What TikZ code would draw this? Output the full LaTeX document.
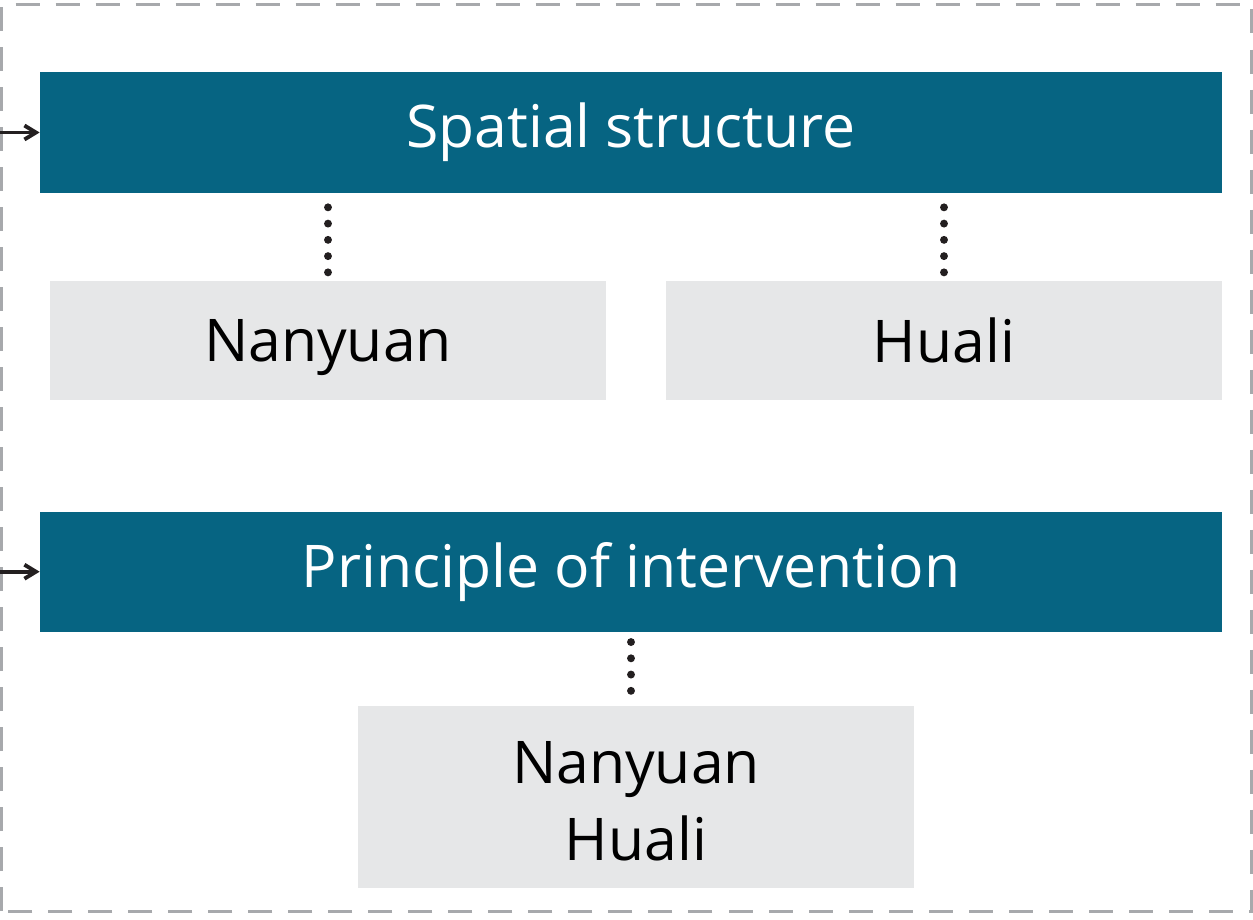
\documentclass[tikz,border=0pt]{standalone}
\usepackage{fontspec}
\setmainfont{Open Sans}
\usepackage{xcolor}
\usetikzlibrary{positioning, arrows.meta}

\definecolor{headteal}{RGB}{6,100,130}
\definecolor{subgray}{RGB}{230,231,232}
\definecolor{framegray}{RGB}{167,169,172}
\definecolor{inkdark}{RGB}{35,31,32}

\begin{document}
\begin{tikzpicture}[
  font=\fontsize{33.5}{44}\selectfont,
  >={Straight Barb[length=2.3mm, width=2.8mm]},
  every node/.style={align=center, inner sep=0pt},
  head/.style ={fill=headteal, text=white,
                minimum width=23.64cm, minimum height=2.42cm},
  site/.style ={fill=subgray, text=black,
                minimum width=11.12cm, minimum height=2.38cm},
  oneline/.style={text depth=0pt},
  link/.style ={draw=inkdark, line width=4.5pt, line cap=round,
                dash pattern=on 0pt off 9.25pt},
  arr/.style  ={->, draw=inkdark, line width=2.2pt},
]
\useasboundingbox (0,0) rectangle (25.06,18.38);
% ---- dashed outer frame ----------------------------------------------------
\draw[framegray, line width=1.7pt, dash pattern=on 0.48cm off 0.32cm]
  (0.03,0.16) rectangle (25.02,18.28);

% ---- Row 1: spatial structure ----------------------------------------------
\node[head] at (12.62,15.73)                                              (spatial) {Spatial structure};
\node[site, oneline, below right=1.74cm and 0.2cm of spatial.south west]  (nanyuan) {Nanyuan};
\node[site, oneline, below left=1.74cm and 0cm of spatial.south east]     (huali)   {Huali};

% ---- Row 2: principle of intervention --------------------------------------
\node[head, below=6.36cm of spatial, minimum height=2.4cm]                (principle) {Principle of intervention};
\node[site, below=1.48cm of principle, xshift=0.1cm,
      minimum height=3.64cm]                                              (both)    {\raisebox{0pt}[\dimexpr\height+0.16cm\relax]{Nanyuan}\\Huali};

% dotted links
\draw[link, shorten <=0.28cm, shorten >=0.15cm] (nanyuan.north |- spatial.south) -- (nanyuan.north);
\draw[link, shorten <=0.28cm, shorten >=0.15cm] (huali.north |- spatial.south)   -- (huali.north);
\draw[link, shorten <=0.2cm,  shorten >=0.02cm] (principle.south) -- (principle.south |- both.north);

% incoming arrows from the left edge
\coordinate (inA) at (0,0 |- spatial.west);
\coordinate (inB) at (0,0 |- principle.west);
\draw[arr] (inA) -- (spatial.west);
\draw[arr] (inB) -- (principle.west);
\end{tikzpicture}
\end{document}
